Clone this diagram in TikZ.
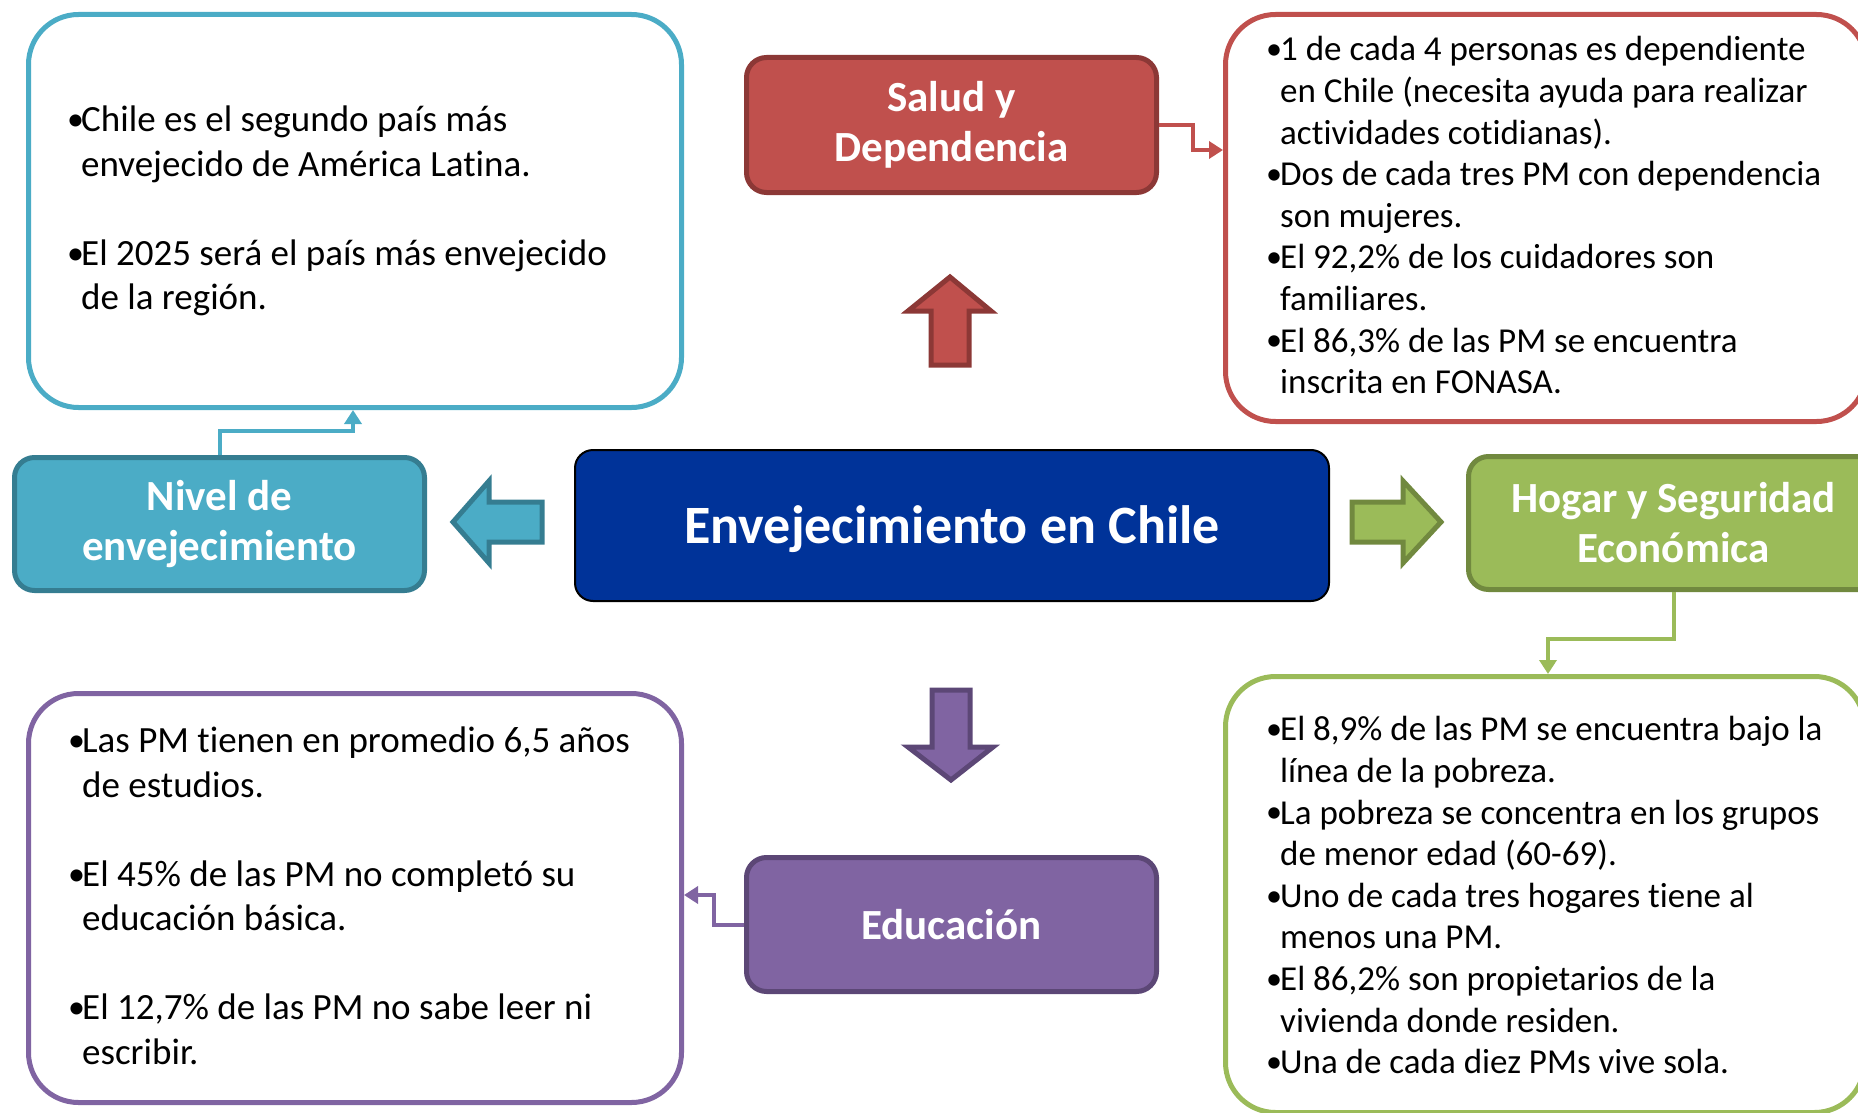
\documentclass[tikz,border=0pt]{standalone}
\usepackage{fontspec}
\usepackage{graphicx}
\setmainfont{Carlito}[Ligatures=NoCommon]
\usetikzlibrary{arrows.meta}
\definecolor{cblue}{HTML}{4BACC6}
\definecolor{cblueD}{HTML}{357D91}
\definecolor{cred}{HTML}{C0504D}
\definecolor{credD}{HTML}{8C3836}
\definecolor{cgreen}{HTML}{9BBB59}
\definecolor{cgreenD}{HTML}{71893F}
\definecolor{cpurp}{HTML}{8064A2}
\definecolor{cpurpD}{HTML}{5C4776}
\definecolor{cnavy}{HTML}{003399}
\newcommand\bul{\makebox[14pt][l]{\raisebox{1.2pt}{\scalebox{0.92}{•}}}}
\newcommand\ind{\hspace*{14pt}}
\tikzset{
  infobox/.style={draw, line width=5pt, rounded corners=50pt, fill=white, inner sep=0pt, anchor=north west},
  catbox/.style={draw, line width=5pt, rounded corners=20pt, inner sep=0pt, anchor=north west, text=white,
    font=\fontsize{43}{50}\selectfont\bfseries, align=center},
  infotext/.style={inner sep=0pt, anchor=north west, align=left, font=\fontsize{35}{41.6}\selectfont},
  infotextL/.style={inner sep=0pt, anchor=north west, align=left, font=\fontsize{37}{44.5}\selectfont},
  conn/.style={line width=4pt, -{Triangle[length=14pt,width=17pt]}},
  blockarrow/.style={line width=5pt, line join=miter}
}
\begin{document}
\begin{tikzpicture}[x=1pt,y=-1pt]
\useasboundingbox (0,0) rectangle (1858,1113);
\clip (0,0) rectangle (1858,1113);

% info boxes
\node[infobox, draw=cblue, minimum width=653pt, minimum height=393pt] (lb) at (26,12) {};
\node[infobox, draw=cred, minimum width=641pt, minimum height=407pt] (rb) at (1223,12) {};
\node[infobox, draw=cgreen, minimum width=639pt, minimum height=436pt] (gb) at (1223,674) {};
\node[infobox, draw=cpurp, minimum width=653pt, minimum height=409pt] (pb) at (26,691) {};

% category boxes
\node[catbox, fill=cred, draw=credD, minimum width=410pt, minimum height=135pt] (sal) at (744,55) {Salud y\\Dependencia};
\node[catbox, fill=cblue, draw=cblueD, minimum width=410pt, minimum height=133pt] (niv) at (12,455) {Nivel de\\envejecimiento};
\node[catbox, fill=cgreen, draw=cgreenD, minimum width=410pt, minimum height=133pt] (hog) at (1466,454) {Hogar y Seguridad\\Económica};
\node[catbox, fill=cpurp, draw=cpurpD, minimum width=410pt, minimum height=134pt] (edu) at (744,855) {Educación};
\node[draw=black, line width=2pt, fill=cnavy, rounded corners=18pt, inner sep=0pt, anchor=north west,
  minimum width=754pt, minimum height=151pt] (ctr) at (574,449) {};
\node[text=white, inner sep=0pt, font=\fontsize{54}{60}\selectfont\bfseries] (ctrt) at ([yshift=-4pt]ctr.center) {Envejecimiento en Chile};

% texts
\node[infotextL] (lbt) at (67,100.5) {\strut\bul Chile es el segundo país más\\
\ind envejecido de América Latina.\\[44.5pt]
\bul El 2025 será el país más envejecido\\
\ind de la región.};

\node[infotext] (rbt) at (1266,31.5) {\strut\bul 1 de cada 4 personas es dependiente\\
\ind en Chile (necesita ayuda para realizar\\
\ind actividades cotidianas).\\
\bul Dos de cada tres PM con dependencia\\
\ind son mujeres.\\
\bul El 92,2\% de los cuidadores son\\
\ind familiares.\\
\bul El 86,3\% de las PM se encuentra\\
\ind inscrita en FONASA.};

\node[infotext] (gbt) at (1266,711.5) {\strut\bul El 8,9\% de las PM se encuentra bajo la\\
\ind línea de la pobreza.\\
\bul La pobreza se concentra en los grupos\\
\ind de menor edad (60-69).\\
\bul Uno de cada tres hogares tiene al\\
\ind menos una PM.\\
\bul El 86,2\% son propietarios de la\\
\ind vivienda donde residen.\\
\bul Una de cada diez PMs vive sola.};

\node[infotextL] (pbt) at (68,721.5) {\strut\bul Las PM tienen en promedio 6,5 años\\
\ind de estudios.\\[44.5pt]
\bul El 45\% de las PM no completó su\\
\ind educación básica.\\[44.5pt]
\bul El 12,7\% de las PM no sabe leer ni\\
\ind escribir.};

% connectors
\coordinate (rin) at (1223,150);
\coordinate (lin) at (353,405);
\coordinate (gin) at (1548,674);
\coordinate (pin) at (679,895);
\draw[conn, cred] (sal.east) -- ++(34,0) |- (rb.west |- rin);
\draw[conn, cblue] (niv.north) -- ++(0,-24) -| (lb.south -| lin);
\draw[conn, cgreen] (hog.south) -- ++(0,47) -| (gb.north -| gin);
\draw[conn, cpurp] (edu.west) -- ++(-30,0) |- (pb.east |- pin);

% block arrows
\draw[blockarrow, fill=cred, draw=credD] (950,277) -- (991,311) -- (969,311) -- (969,365) -- (931,365) -- (931,311) -- (908,311) -- cycle;
\draw[blockarrow, fill=cpurp, draw=cpurpD] (951,780) -- (993,747) -- (970,747) -- (970,690) -- (932,690) -- (932,747) -- (908,747) -- cycle;
\draw[blockarrow, fill=cblue, draw=cblueD] (453,522) -- (489,481) -- (489,502) -- (542,502) -- (542,542) -- (489,542) -- (489,563) -- cycle;
\draw[blockarrow, fill=cgreen, draw=cgreenD] (1441,522) -- (1403,481) -- (1403,502) -- (1352,502) -- (1352,542) -- (1403,542) -- (1403,563) -- cycle;
\end{tikzpicture}
\end{document}
